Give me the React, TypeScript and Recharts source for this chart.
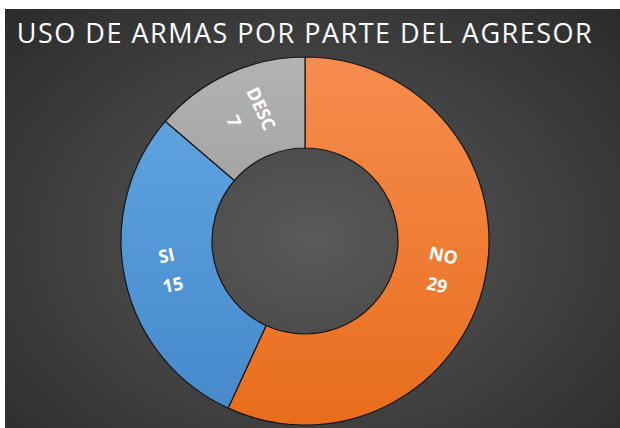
import React from "react";
import { PieChart, Pie, Cell } from "recharts";

// valores
const categorias = ["NO", "SI", "DESC"];
const valores = [29, 15, 7];
const coloresArriba = ["#F68D4E", "#5FA2E0", "#B3B3B3"];
const coloresAbajo = ["#E86D1C", "#478ACB", "#A5A5A5"];

const data = categorias.map((c, i) => ({ name: c, value: valores[i] }));

const RAD = Math.PI / 180;

const renderLabel = (props: any) => {
    const { cx, cy, midAngle, innerRadius, outerRadius, name, value } = props;
    const r = (innerRadius + outerRadius) / 2;
    const x = cx + r * Math.cos(-midAngle * RAD);
    const y = cy + r * Math.sin(-midAngle * RAD);
    let rot = -midAngle;
    if (Math.cos(-midAngle * RAD) < 0) rot += 180;
    return (
        <g transform={`translate(${x},${y}) rotate(${rot})`}>
            <text
                textAnchor="middle"
                fill="#ffffff"
                fontFamily="'Open Sans', sans-serif"
                fontWeight={700}
                fontSize={18}
            >
                <tspan x={0} y={-9}>{name}</tspan>
                <tspan x={0} y={21}>{value}</tspan>
            </text>
        </g>
    );
};

export default function App() {
    return (
        <div style={{ position: "absolute", left: 0, top: 0, width: 620, height: 428, background: "#ffffff" }}>
            <div
                style={{
                    position: "absolute",
                    left: 5,
                    top: 9,
                    width: 615,
                    height: 419,
                    background: "radial-gradient(ellipse at 50% 55%, #5a5a5a 0%, #3e3e3e 60%, #2b2b2b 100%)",
                }}
            />
            <div
                style={{
                    position: "absolute",
                    left: 5,
                    top: 14,
                    width: 600,
                    textAlign: "center",
                    color: "#ffffff",
                    fontFamily: "'Open Sans', sans-serif",
                    fontSize: 27,
                    letterSpacing: 1.5,
                    lineHeight: "38px",
                }}
            >
                USO DE ARMAS POR PARTE DEL AGRESOR
            </div>
            <div style={{ position: "absolute", left: 0, top: 0 }}>
                <PieChart width={620} height={428} margin={{ top: 0, right: 0, bottom: 0, left: 0 }}>
                    <defs>
                        {categorias.map((c, i) => (
                            <linearGradient key={c} id={`grad-${i}`} x1="0" y1="0" x2="0" y2="1">
                                <stop offset="0%" stopColor={coloresArriba[i]} />
                                <stop offset="100%" stopColor={coloresAbajo[i]} />
                            </linearGradient>
                        ))}
                    </defs>
                    <Pie
                        data={data}
                        dataKey="value"
                        nameKey="name"
                        cx={305}
                        cy={241}
                        innerRadius={93}
                        outerRadius={184}
                        startAngle={90}
                        endAngle={-270}
                        stroke="#151515"
                        strokeWidth={1.2}
                        label={renderLabel}
                        labelLine={false}
                        isAnimationActive={false}
                    >
                        {data.map((d, i) => (
                            <Cell key={d.name} fill={`url(#grad-${i})`} />
                        ))}
                    </Pie>
                </PieChart>
            </div>
        </div>
    );
}
